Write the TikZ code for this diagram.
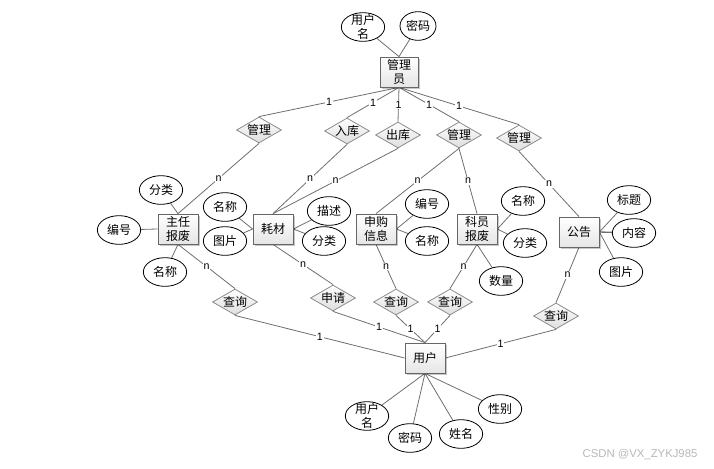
\documentclass[tikz,border=0pt]{standalone}
\usepackage{fontspec}
\setmainfont{Noto Sans CJK SC}
\newfontfamily\latinf{Liberation Sans}
\usetikzlibrary{shapes.geometric,shadows}
\definecolor{linec}{HTML}{6E6E6E}
\definecolor{boxc}{HTML}{8C8C8C}
\pgfdeclarelayer{background}
\pgfsetlayers{background,main}
\begin{document}
\begin{tikzpicture}[x=0.75pt,y=-0.75pt,
  ent/.style={draw=black!60, line width=0.6pt, top color=white, bottom color=black!10,
    minimum width=30pt, minimum height=22.5pt, inner sep=0.5pt, align=center,
    font=\fontsize{9}{10.5}\selectfont,
    drop shadow={shadow xshift=1.5pt, shadow yshift=-1.5pt, opacity=0.22, fill=black}},
  rel/.style={diamond, draw=boxc, line width=0.6pt, top color=white, bottom color=black!13,
    aspect=1.75, inner sep=0pt, minimum width=33.75pt, minimum height=19.5pt,
    font=\fontsize{9}{10}\selectfont},
  attr/.style={ellipse, draw=black, line width=0.6pt, fill=white,
    minimum width=32.5pt, minimum height=21.5pt, inner sep=0pt,
    font=\fontsize{9}{10}\selectfont},
  twoline/.style={attr, label={[font=\fontsize{9}{10.5}\selectfont, align=center, inner sep=0pt]center:#1}},
  conn/.style={draw=linec, line width=0.6pt},
  card/.style={fill=white, inner sep=0.6pt, font=\latinf\fontsize{8}{9}\selectfont, text=black},
]
\useasboundingbox (0,0) rectangle (714,468);

% administrator
\node[ent, minimum width=28.5pt] (adm) at (399,72) {管理\\员};
\node[twoline={用户\\名}] (au) at (363,27) {};
\node[attr, minimum width=27pt] (ap) at (418,26) {密码};

% top relations
\node[rel] (r1) at (259,130) {管理};
\node[rel] (r2) at (347,131) {入库};
\node[rel] (r3) at (398,135) {出库};
\node[rel] (r4) at (459,135) {管理};
\node[rel] (r5) at (519,138) {管理};

% entities
\node[ent] (e1) at (178,229) {主任\\报废};
\node[ent] (e2) at (273,229) {耗材};
\node[ent] (e3) at (376,229) {申购\\信息};
\node[ent] (e4) at (477,229) {科员\\报废};
\node[ent] (e5) at (579,232) {公告};

% attributes
\node[attr] (a11) at (161,190) {分类};
\node[attr] (a12) at (119,230) {编号};
\node[attr] (a13) at (165,272) {名称};
\node[attr] (a21) at (225,207) {名称};
\node[attr] (a22) at (225,241) {图片};
\node[attr] (a23) at (329,211) {描述};
\node[attr] (a24) at (324,241) {分类};
\node[attr] (a31) at (427,204) {编号};
\node[attr] (a32) at (427,241) {名称};
\node[attr] (a41) at (523,201) {名称};
\node[attr] (a42) at (525,243) {分类};
\node[attr] (a43) at (501,281) {数量};
\node[attr] (a51) at (629,200) {标题};
\node[attr] (a52) at (634,233) {内容};
\node[attr] (a53) at (621,272) {图片};

% bottom relations
\node[rel] (q1) at (235,302) {查询};
\node[rel] (q2) at (333,298) {申请};
\node[rel] (q3) at (396,302) {查询};
\node[rel] (q4) at (450,302) {查询};
\node[rel] (q5) at (556,316) {查询};

% user
\node[ent] (u) at (425,358) {用户};
\node[twoline={用户\\名}] (b1) at (367,416) {};
\node[attr] (b2) at (410,438) {密码};
\node[attr] (b3) at (461,434) {姓名};
\node[attr] (b4) at (500,409) {性别};

\node[font=\latinf\fontsize{8.5}{9}\selectfont, text=black!28] (wm) at (640,455) {CSDN @VX\_ZYKJ985};

\begin{pgfonlayer}{background}
% attribute links
\draw[conn] (au) -- (adm.north);
\draw[conn] (ap) -- (adm.north);
\draw[conn] (a11) -- (e1.north);
\draw[conn] (a12) -- (e1.west);
\draw[conn] (a13) -- (e1.south);
\draw[conn] (a21) -- (e2.west);
\draw[conn] (a22) -- (e2.west);
\draw[conn] (a23) -- (e2.east);
\draw[conn] (a24) -- (e2.east);
\draw[conn] (a31) -- (e3.east);
\draw[conn] (a32) -- (e3.east);
\draw[conn] (a41) -- (e4.east);
\draw[conn] (a42) -- (e4.east);
\draw[conn] (a43) -- (e4.south);
\draw[conn] (a51) -- (e5.east);
\draw[conn, line width=1pt] (a52) -- (e5.east);
\draw[conn] (a53) -- (e5.east);
\draw[conn] (b1) -- (u.south);
\draw[conn] (b2) -- (u.south);
\draw[conn] (b3) -- (u.south);
\draw[conn] (b4) -- (u.south);

% admin to relations
\foreach \r in {r1,r2,r3,r4,r5}
  \draw[conn] (adm.south) -- node[card] {1} (\r.north);

% relations to entities
\draw[conn] (r1.south) -- node[card] {n} (e1.north);
\draw[conn] (r2.south) -- node[card] {n} (e2.north);
\draw[conn] (r3.south) -- node[card] {n} (e2.north);
\draw[conn] (r4.south) -- node[card] {n} (e3.north);
\draw[conn] (r4.south) -- node[card] {n} (e4.north);
\draw[conn] (r5.south) -- node[card] {n} (e5.north);

% entities to bottom relations
\draw[conn] (e1.south) -- node[card] {n} (q1.north);
\draw[conn] (e2.south) -- node[card] {n} (q2.north);
\draw[conn] (e3.south) -- node[card] {n} (q3.north);
\draw[conn] (e4.south) -- node[card] {n} (q4.north);
\draw[conn] (e5.south) -- node[card] {n} (q5.north);

% bottom relations to user
\draw[conn] (q1.south) -- node[card] {1} (u.west);
\draw[conn] (q2.south) -- node[card] {1} (u.north);
\draw[conn] (q3.south) -- node[card] {1} (u.north);
\draw[conn] (q4.south) -- node[card] {1} (u.north);
\draw[conn] (q5.south) -- node[card] {1} (u.east);
\end{pgfonlayer}
\end{tikzpicture}
\end{document}
